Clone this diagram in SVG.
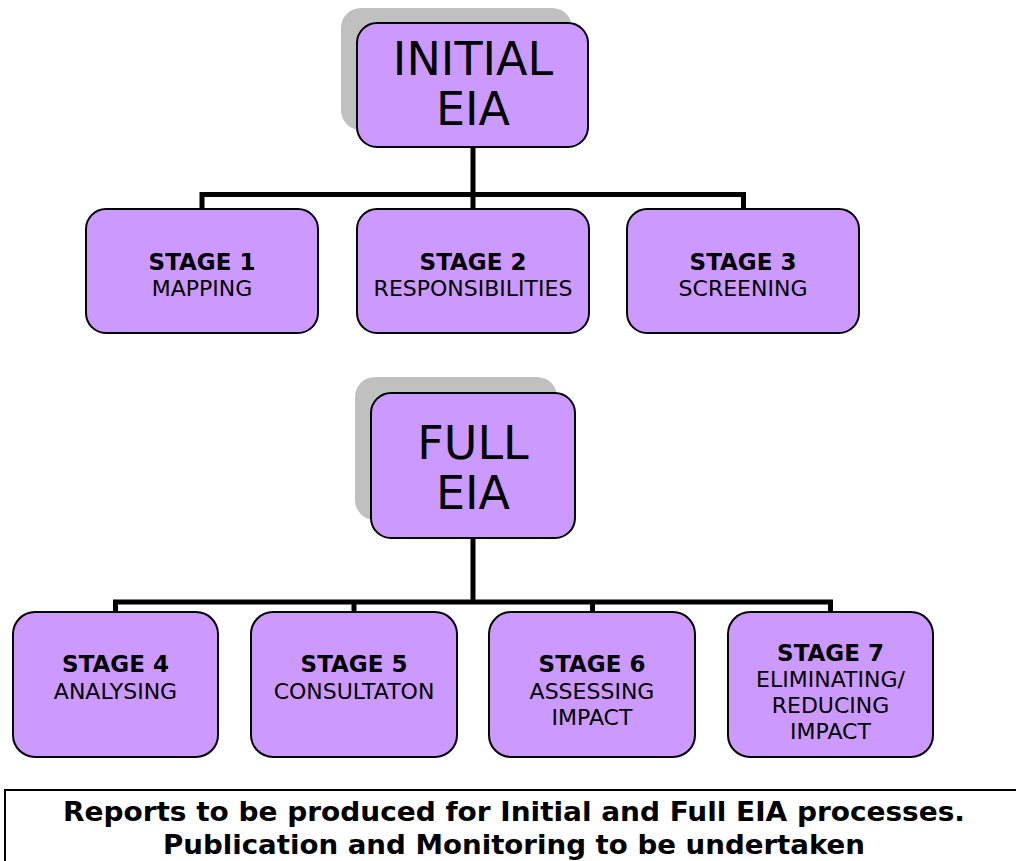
<svg xmlns="http://www.w3.org/2000/svg" width="1016" height="861" viewBox="0 0 1016 861">
<style>
.box{fill:#CC99FF;stroke:#000;stroke-width:2}
.shadow{fill:#C0C0C0;stroke:none}
.big{font-family:"DejaVu Sans",Verdana,sans-serif;font-size:46px;fill:#000;text-anchor:middle}
.b{font-family:"DejaVu Sans",Verdana,sans-serif;font-size:23px;font-weight:bold;fill:#000;text-anchor:middle}
.r{font-family:"DejaVu Sans",Verdana,sans-serif;font-size:22px;fill:#000;text-anchor:middle}
.foot{font-family:"DejaVu Sans Condensed","DejaVu Sans",sans-serif;font-stretch:condensed;font-size:26px;font-weight:bold;fill:#000;text-anchor:middle}
.conn{fill:none;stroke:#000;stroke-width:5;stroke-linejoin:miter}
</style>
<rect width="1016" height="861" fill="#fff"/>
<g id="connectors">
<path class="conn" d="M473,148 V209"/>
<path class="conn" d="M202,209 V194.5 H743.5 V209"/>
<path class="conn" d="M473,538 V602"/>
<path class="conn" d="M115.5,612 V602 H830.5 V612"/>
<path class="conn" d="M354,602 V612"/>
<path class="conn" d="M592.5,602 V612"/>
</g>
<g id="initial-eia">
<rect class="shadow" x="341" y="8" width="231" height="122" rx="20"/>
<rect class="box" x="357" y="23" width="231" height="124" rx="20"/>
<text class="big" x="473" y="75">INITIAL</text>
<text class="big" x="473" y="125">EIA</text>
</g>
<g id="stage1">
<rect class="box" x="86" y="209" width="232" height="124" rx="20"/>
<text class="b" x="202" y="270">STAGE 1</text>
<text class="r" x="202" y="296">MAPPING</text>
</g>
<g id="stage2">
<rect class="box" x="357" y="209" width="232" height="124" rx="20"/>
<text class="b" x="473" y="270">STAGE 2</text>
<text class="r" x="473" y="296">RESPONSIBILITIES</text>
</g>
<g id="stage3">
<rect class="box" x="627" y="209" width="232" height="124" rx="20"/>
<text class="b" x="743" y="270">STAGE 3</text>
<text class="r" x="743" y="296">SCREENING</text>
</g>
<g id="full-eia">
<rect class="shadow" x="355" y="377" width="202" height="143" rx="20"/>
<rect class="box" x="371" y="393" width="204" height="145" rx="20"/>
<text class="big" x="473" y="459">FULL</text>
<text class="big" x="473" y="509">EIA</text>
</g>
<g id="stage4">
<rect class="box" x="13" y="612" width="205" height="145" rx="22"/>
<text class="b" x="115.5" y="672">STAGE 4</text>
<text class="r" x="115.5" y="699">ANALYSING</text>
</g>
<g id="stage5">
<rect class="box" x="251" y="612" width="206" height="145" rx="22"/>
<text class="b" x="354" y="672">STAGE 5</text>
<text class="r" x="354" y="699">CONSULTATON</text>
</g>
<g id="stage6">
<rect class="box" x="489" y="612" width="206" height="145" rx="22"/>
<text class="b" x="592" y="672">STAGE 6</text>
<text class="r" x="592" y="699">ASSESSING</text>
<text class="r" x="592" y="725">IMPACT</text>
</g>
<g id="stage7">
<rect class="box" x="728" y="612" width="205" height="145" rx="22"/>
<text class="b" x="830.5" y="661">STAGE 7</text>
<text class="r" x="830.5" y="687">ELIMINATING/</text>
<text class="r" x="830.5" y="713">REDUCING</text>
<text class="r" x="830.5" y="739">IMPACT</text>
</g>
<g id="footer">
<rect x="5" y="790" width="1030" height="90" fill="#fff" stroke="#000" stroke-width="2"/>
<text class="foot" x="514" y="821" textLength="902" lengthAdjust="spacingAndGlyphs">Reports to be produced for Initial and Full EIA processes.</text>
<text class="foot" x="514" y="854" textLength="702" lengthAdjust="spacingAndGlyphs">Publication and Monitoring to be undertaken</text>
</g>
</svg>
